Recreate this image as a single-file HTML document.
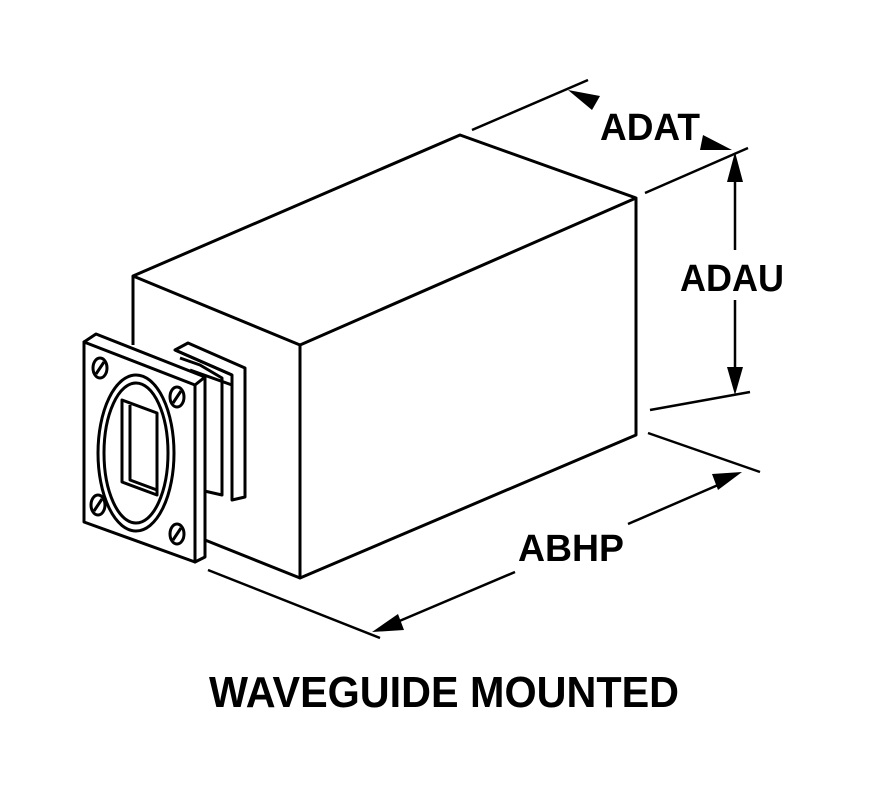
<!DOCTYPE html>
<html><head><style>body{margin:0;background:#fff}svg{display:block}</style></head><body>
<svg width="878" height="785" viewBox="0 0 878 785" xmlns="http://www.w3.org/2000/svg">
<g fill="none" stroke="#000" stroke-width="3" stroke-linejoin="round">
<path d="M133,276 L460,135 L636,198 L300,345 Z" fill="#fff"/>
<path d="M300,345 L300,578 L636,435 L636,198"/>
<path d="M133,276 L133,345"/>
<path d="M205,540 L300,578"/>
<path d="M175,350 L188,343 L245,368 L245,497 L232,500 L232,375 Z" fill="#fff"/>
<path d="M175,350 L232,375"/>
<path d="M180,358 L200,365 L222,378 L222,495 L200,490"/>
<path d="M190,370 L232,385"/>
<path d="M84,342 L96,334 L205,377 L205,557 L195,562 Z" fill="#fff"/>
<path d="M84,342 L195,385 L195,562 L84,522 Z" fill="#fff"/>
<path d="M195,385 L205,377"/>
<ellipse cx="136" cy="453" rx="38" ry="78"/>
<ellipse cx="136" cy="453" rx="32" ry="70"/>
<path d="M122,400 L157,413 L157,495 L122,482 Z"/>
<path d="M130,405 L130,480 L157,490"/>
<ellipse cx="100" cy="368" rx="7" ry="10"/><path d="M96,374 L104,362"/>
<ellipse cx="177" cy="397" rx="7" ry="10"/><path d="M173,403 L181,391"/>
<ellipse cx="98" cy="505" rx="7" ry="10"/><path d="M94,511 L102,499"/>
<ellipse cx="177" cy="534" rx="7" ry="10"/><path d="M173,540 L181,528"/>
</g>
<g fill="none" stroke="#000" stroke-width="2.5">
<path d="M472,130 L588,80"/>
<path d="M645,193 L748,148"/>
<path d="M735,160 L735,250"/>
<path d="M735,300 L735,385"/>
<path d="M650,410 L750,392"/>
<path d="M208,570 L380,638"/>
<path d="M648,433 L760,472"/>
<path d="M390,625 L515,572"/>
<path d="M628,524 L725,482"/>
</g>
<g fill="#000">
<polygon points="568,90 600,96 592,110"/>
<polygon points="732,150 703,135 700,150"/>
<polygon points="735,152 727,182 743,182"/>
<polygon points="735,395 727,367 743,367"/>
<polygon points="372,632 398,614 404,630"/>
<polygon points="742,472 712,474 718,490"/>
</g>
<g font-family="Liberation Sans, sans-serif" font-weight="bold" fill="#000">
<text x="650" y="140" font-size="38" text-anchor="middle" textLength="100" lengthAdjust="spacingAndGlyphs">ADAT</text>
<text x="732" y="291" font-size="38" text-anchor="middle" textLength="104" lengthAdjust="spacingAndGlyphs">ADAU</text>
<text x="571" y="561" font-size="38" text-anchor="middle" textLength="106" lengthAdjust="spacingAndGlyphs">ABHP</text>
<text x="444" y="707" font-size="44" text-anchor="middle" textLength="470" lengthAdjust="spacingAndGlyphs">WAVEGUIDE MOUNTED</text>
</g>
</svg>
</body></html>
